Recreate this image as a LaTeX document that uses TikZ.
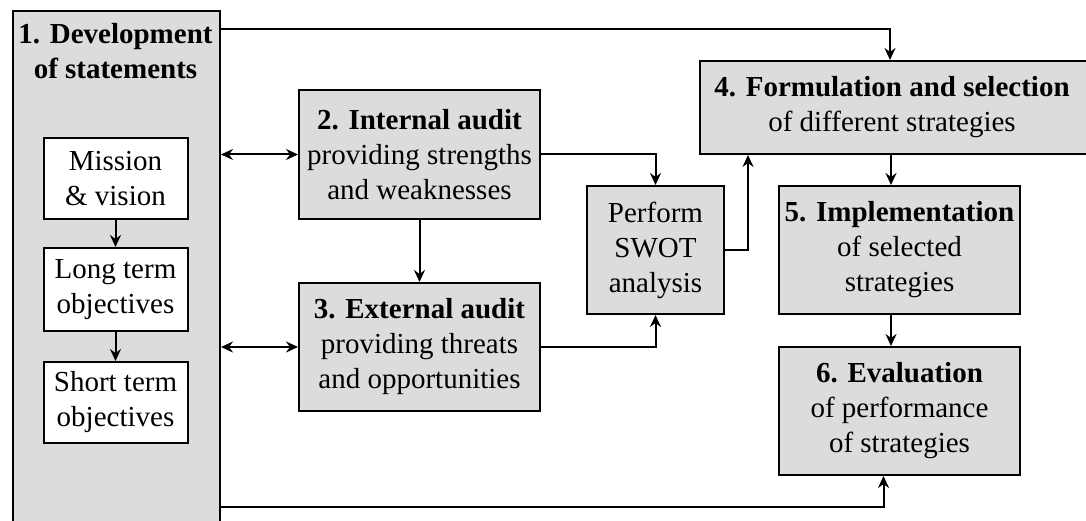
\documentclass[tikz,border=0pt]{standalone}
\usepackage{fontspec}
\setmainfont{Liberation Serif}
\usetikzlibrary{arrows.meta}
\definecolor{boxgray}{RGB}{220,220,220}
\begin{document}
\begin{tikzpicture}[x=1pt,y=-1pt,
  every node/.style={font=\fontsize{29}{35}\selectfont, align=center, inner sep=0pt},
  graybox/.style={draw, fill=boxgray, line width=2pt},
  whitebox/.style={draw, fill=white, line width=2pt, minimum width=144pt, minimum height=81pt},
  wire/.style={line width=2pt},
  tip/.style={},
  arr/.style={wire, -{Stealth[length=12pt,width=11pt,inset=4pt]}},
  darr/.style={wire, {Stealth[length=12pt,width=11pt,inset=4pt]}-{Stealth[length=12pt,width=11pt,inset=4pt]}}]
\useasboundingbox (0,0) rectangle (1086,521);
\clip (0,0) rectangle (1086,521);

% 1. statements column (runs past the lower edge)
\node[graybox, minimum width=207pt, minimum height=540pt, anchor=north west] (s1) at (12,10) {};
\node[anchor=north, font=\fontsize{29}{35}\selectfont\bfseries] (t1) at (115.5,23) {1. Development\\of statements};
\node[whitebox] (mv) at (115.5,179) {Mission\\\& vision};
\node[whitebox, minimum height=83pt] (lt) at (115.5,289.5) {Long term\\objectives};
\node[whitebox] (st) at (115.5,402.5) {Short term\\objectives};

% audits
\node[graybox, minimum width=241pt, minimum height=129pt] (f2) at (419.5,154.5) {\textbf{2. Internal audit}\\providing strengths\\and weaknesses};
\node[graybox, minimum width=241pt, minimum height=128pt] (f3) at (419.5,347) {\textbf{3. External audit}\\providing threats\\and opportunities};

% SWOT
\node[graybox, minimum width=137pt, minimum height=128pt] (sw) at (655.5,250) {Perform\\SWOT\\analysis};

% strategy stages
\node[graybox, minimum width=392pt, minimum height=93pt, anchor=north west] (f4) at (699,60) {};
\node (t4) at (892,107) {\textbf{4. Formulation and selection}\\of different strategies};
\node[graybox, minimum width=241pt, minimum height=128pt] (f5) at (899.5,250) {\textbf{5. Implementation}\\of selected\\strategies};
\node[graybox, minimum width=241pt, minimum height=128pt] (f6) at (899.5,411) {\textbf{6. Evaluation}\\of performance\\of strategies};

% rails
\coordinate (toprail) at (0,29);
\coordinate (lowrail) at (0,507);
\coordinate (f4mid) at (891,0);

% connectors
\draw[arr] (mv) -- (lt);
\draw[arr] (lt) -- (st);
\draw[darr] (s1.east |- f2.west) -- (f2.west);
\draw[darr] (s1.east |- f3.west) -- (f3.west);
\draw[arr] (f2) -- (f3);
\draw[arr] (f2.east) -| (sw.north);
\draw[arr] (f3.east) -| (sw.south);
\draw[arr] (sw.east) -| ([xshift=-143pt]f4mid |- f4.south);
\draw[arr] (s1.east |- toprail) -| ([xshift=-1pt]f4mid |- f4.north);
\draw[arr] (f4mid |- f4.south) -- (f4mid |- f5.north);
\draw[arr] (f4mid |- f5.south) -- (f4mid |- f6.north);
\draw[arr] (s1.east |- lowrail) -| ([xshift=-16pt]f6.south);
\end{tikzpicture}
\end{document}
